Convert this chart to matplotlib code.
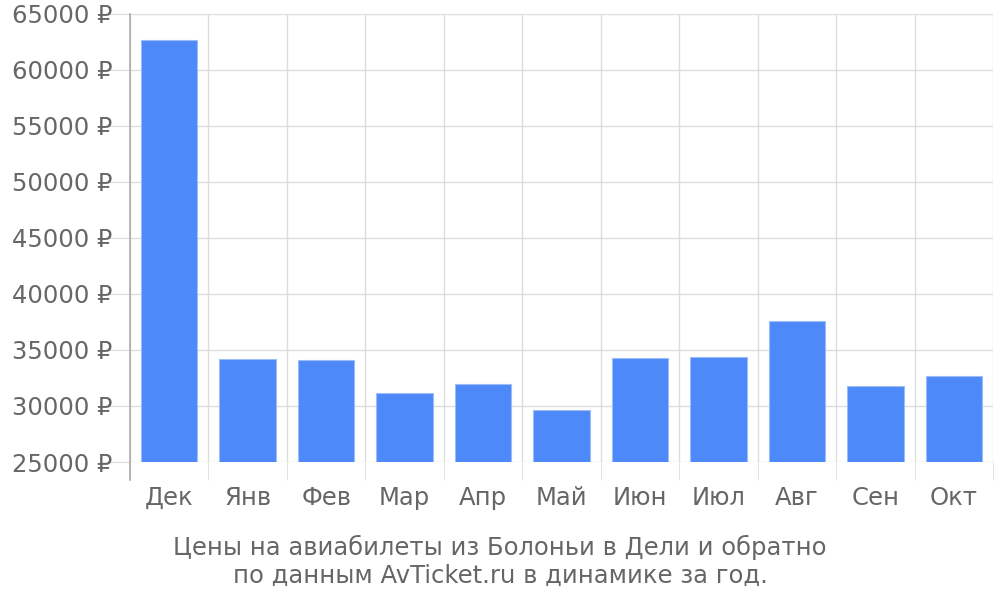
import matplotlib
matplotlib.use("Agg")
import matplotlib.pyplot as plt
import numpy as np

months = ["Дек", "Янв", "Фев", "Мар", "Апр", "Май", "Июн", "Июл", "Авг", "Сен", "Окт"]
prices = [62680, 34200, 34110, 31160, 31960, 29640, 34290, 34380, 37590, 31790, 32680]
yticks = [25000, 30000, 35000, 40000, 45000, 50000, 55000, 60000, 65000]
caption = "Цены на авиабилеты из Болоньи в Дели и обратно\nпо данным AvTicket.ru в динамике за год."

plt.rcParams['font.family'] = ['DejaVu Sans']
fig = plt.figure(figsize=(10, 6), dpi=100)
ax = fig.add_axes([0.13, 0.23, 0.863, 0.7467])

x = np.arange(len(months))
ax.bar(x, prices, width=0.72, bottom=0, color="#4d89f9", edgecolor="#9dbdf8", linewidth=0.8, zorder=3)
ax.set_ylim(25000, 65000)
ax.set_xlim(-0.5, len(months) - 0.5)

ax.set_yticks(yticks)
ax.set_yticklabels([f"{v} ₽" for v in yticks])
ax.set_xticks(x)
ax.set_xticklabels(months)
ax.set_xticks(np.arange(len(months) + 1) - 0.5, minor=True)

ax.grid(axis="y", color="#dddddd", linewidth=1, zorder=0)
ax.grid(axis="x", which="minor", color="#dddddd", linewidth=1, zorder=0)
ax.tick_params(axis="y", length=20, color="#dddddd", labelsize=17.5, labelcolor="#666666", pad=-7.5)
ax.tick_params(axis="x", which="major", length=0, labelsize=17.5, labelcolor="#666666", pad=17.5)
ax.tick_params(axis="x", which="minor", length=13, color="#dddddd")

for s in ["top", "right", "bottom", "left"]:
    ax.spines[s].set_visible(False)

# left axis line, extending below the plot like the reference
ax.plot([-0.5, -0.5], [25000 - 1600, 65000], color="#aaaaaa", linewidth=1.2, clip_on=False, zorder=4)

lines = caption.split("\n")
fig.text(0.5, 1 - 547 / 600, lines[0], ha="center", va="center", fontsize=17.5, color="#666666")
fig.text(0.5, 1 - 576 / 600, lines[1], ha="center", va="center", fontsize=17.5, color="#666666")

fig.savefig("out.png", dpi=100)
